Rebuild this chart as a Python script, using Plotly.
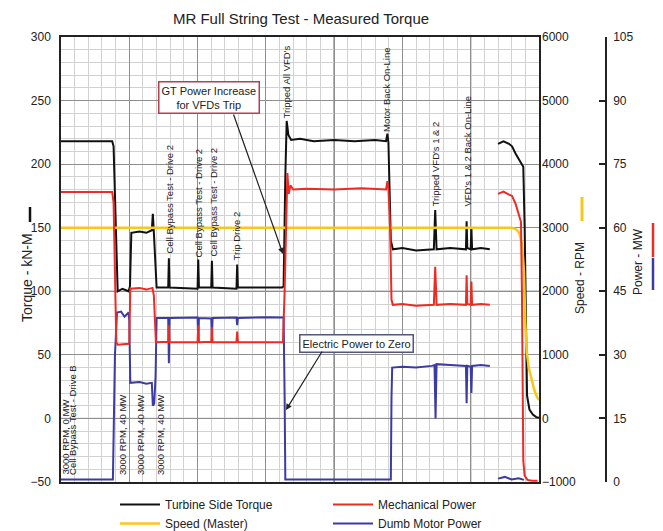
import plotly.graph_objects as go

# ---------------- data ----------------
TIME_TORQUE = [0, 7.5, 7.7, 8.3, 9.0, 9.9, 10.1, 10.3, 11.5, 12.5, 13.3, 13.45, 13.6, 14.0,
               15.7, 15.8, 15.9, 20.0, 20.1, 20.2, 22.0, 22.1, 22.2, 25.7, 25.8, 25.9,
               32.4, 32.6, 32.85, 33.05, 33.3, 33.7, 35, 37, 40, 43, 46, 47.6, 47.8, 47.95,
               48.3, 48.6, 50, 52, 54.6, 54.8, 55.0, 57, 59.3, 59.4, 59.5, 60.0, 60.1, 60.2,
               61.5, 62.8, None, 64.0, 64.8, 65.6, 66.05, 66.6, 67.2, 67.7, 67.9, 68.1, 68.25,
               68.6, 69.1, 69.6, 70]
TORQUE_KNM = [218, 218, 214, 100, 102, 100, 104, 146, 147, 146, 148, 161, 146, 103,
              103, 126, 103, 102, 125, 103, 103, 124, 103, 102, 121, 103,
              103, 104, 190, 234, 223, 219, 220, 218, 219, 218, 219, 218, 224, 217,
              140, 133, 134, 132, 133, 164, 133, 134, 133, 155, 134, 133, 150, 133,
              134, 133, None, 216, 218, 216, 214, 208, 203, 198, 150, 60, 18,
              7, 3, 1, 0.5]

TIME_SPEED = [0, 66.0, 66.6, 67.1, 67.5, 67.8, 68.0, 68.2, 68.5, 68.9, 69.3, 69.7, 70]
SPEED_RPM = [3000, 3000, 2980, 2920, 2750, 2300, 1500, 1050, 800, 600, 450, 340, 290]

TIME_MECH = [0, 7.5, 7.7, 8.1, 8.3, 9.9, 10.0, 10.15, 11.5, 12.5, 13.4, 13.6, 13.9,
             15.7, 15.8, 15.9, 20.0, 20.1, 20.2, 22.0, 22.1, 22.2, 25.7, 25.8, 25.9,
             32.5, 32.75, 32.95, 33.15, 33.35, 33.6, 34.0, 36, 40, 44, 47.6, 47.8, 47.95,
             48.2, 48.4, 48.6, 50, 52, 54.6, 54.8, 55.0, 57, 59.3, 59.4, 59.5, 60.0, 60.1,
             60.2, 61.5, 62.8, None, 64.0, 64.8, 65.6, 66.05, 66.6, 67.0, 67.36, 67.5, 67.6,
             67.7, 67.9, 68.3, 69.0, 69.8]
MECH_MW = [68.4, 68.4, 66, 33, 32.4, 32.6, 33, 45.6, 45.8, 45.4, 45.8, 44, 33,
           33.1, 37, 33, 33, 37, 33, 33.1, 36.5, 33, 33, 35.5, 33,
           33, 45, 60, 72.9, 68, 70, 69, 69.2, 69, 69.3, 69, 71, 69,
           60, 43, 41.8, 42, 41.6, 41.8, 50.8, 41.8, 42, 41.8, 48.8, 42, 41.8, 47.3,
           41.8, 42, 41.8, None, 68, 68.5, 67.8, 67.5, 65.5, 63.5, 61.4, 45, 20,
           5, 1.5, 0.5, 0.3, 0.3]

TIME_MOTOR = [0, 7.6, 7.9, 8.2, 8.8, 9.3, 9.9, 10.0, 10.15, 11.5, 12.5, 13.3, 13.45, 13.65,
              13.85, 14.0, 15.7, 15.8, 15.9, 20.0, 20.1, 20.2, 22.0, 22.1, 22.2, 25.7, 25.8,
              25.9, 30, 32.6, 32.75, 32.85, 40, 48.3, 48.4, 48.5, 50, 52, 54.3, 54.7, 54.85,
              55.0, 57, 59.3, 59.4, 59.5, 60.0, 60.1, 60.2, 61.5, 62.8, None, 64.0, 65, 66,
              67, 67.8]
MOTOR_MW = [0.6, 0.6, 30, 40, 40.2, 39, 40, 38, 23.4, 23.6, 23.2, 23.4, 18, 18.5,
            25, 38.7, 38.7, 28, 38.7, 38.8, 33, 38.7, 38.6, 34, 38.7, 38.8, 37,
            38.7, 38.9, 38.8, 20, 0.6, 0.6, 0.6, 20, 27, 27.2, 27, 27.4, 27.6, 15,
            27.8, 27.6, 27.4, 18.6, 27.4, 27.2, 21, 27.4, 27.6, 27.4, None, 0.8, 1.2, 0.6,
            0.9, 0.5]

TORQUE_TICKS = [-50, 0, 50, 100, 150, 200, 250, 300]
SPEED_TICKS = [-1000, 0, 1000, 2000, 3000, 4000, 5000, 6000]
POWER_TICKS = [0, 15, 30, 45, 60, 75, 90, 105]

EVENT_TEXT = ["3000 RPM, 0 MW", "Cell Bypass Test - Drive B", "3000 RPM, 40 MW",
              "3000 RPM, 40 MW", "3000 RPM, 40 MW", "Cell Bypass Test - Drive 2",
              "Cell Bypass Test - Drive 2", "Cell Bypass Test - Drive 2", "Trip Drive 2",
              "Tripped All VFD's", "Motor Back On-Line", "Tripped VFD's 1 & 2",
              "VFD's 1 & 2 Back On-Line"]
EVENT_TIME = [0.6, 1.6, 8.93, 11.57, 14.5, 15.82, 20.2, 22.26, 25.77, 32.95, 47.74, 54.77, 59.46]

TITLE = "MR Full String Test - Measured Torque"

# ---------------- style ----------------
BLACK, RED, YELLOW, BLUE = "#111111", "#ee2a24", "#f6c81b", "#3b3ba3"
W, H = 663, 531
ML, MR, MT, MB = 61, 57, 37, 49
PW = W - ML - MR          # paper width (545)
PH = H - MT - MB          # plot height (445)
PLOT_RIGHT = 539
XDOM = (PLOT_RIGHT - ML) / PW


def px(xp):
    return (xp - ML) / PW


def py(yp):
    return (H - MB - yp) / PH


EVENT_BOTTOM_PX = [476, 476, 476, 476, 476, 255, 258, 258, 261, 120, 133, 208, 208]

fig = go.Figure()
fig.add_trace(go.Scatter(x=TIME_TORQUE, y=TORQUE_KNM, mode="lines", name="Turbine Side Torque",
                         line=dict(color=BLACK, width=2), yaxis="y", legendrank=1,
                         connectgaps=False))
fig.add_trace(go.Scatter(x=TIME_SPEED, y=SPEED_RPM, mode="lines", name="Speed (Master)",
                         line=dict(color=YELLOW, width=2.5), yaxis="y2", legendrank=3))
fig.add_trace(go.Scatter(x=TIME_MOTOR, y=MOTOR_MW, mode="lines", name="Dumb Motor Power",
                         line=dict(color=BLUE, width=2), yaxis="y3", legendrank=4,
                         connectgaps=False))
fig.add_trace(go.Scatter(x=TIME_MECH, y=MECH_MW, mode="lines", name="Mechanical Power",
                         line=dict(color=RED, width=2), yaxis="y3", legendrank=2,
                         connectgaps=False))

FONT = "Arial, Liberation Sans, sans-serif"
MAJOR, MINOR = "#8e8e8e", "#d2d2d2"

fig.update_layout(
    width=W, height=H, margin=dict(l=ML, r=MR, t=MT, b=MB, autoexpand=False),
    paper_bgcolor="white", plot_bgcolor="white",
    font=dict(family=FONT, size=12, color="#222"),
    title=dict(text=TITLE, x=px(301), xanchor="center", xref="paper",
               y=1 - 19 / H, yanchor="middle", font=dict(size=15, color="#222")),
    xaxis=dict(domain=[0, XDOM], range=[0, 70], dtick=10, tick0=0, showticklabels=False,
               ticks="", showgrid=True, gridcolor=MAJOR, gridwidth=1, zeroline=False,
               showline=True, mirror=True, linecolor="#222", linewidth=1.5,
               minor=dict(dtick=2, tick0=0, showgrid=True, gridcolor=MINOR, gridwidth=1)),
    yaxis=dict(range=[-50, 300], tickvals=TORQUE_TICKS, ticks="", showgrid=True,
               gridcolor=MAJOR, gridwidth=1, zeroline=False, showline=True, mirror=True,
               linecolor="#222", linewidth=1.5, ticklabelstandoff=6,
               tickfont=dict(size=12, color="#222"),
               minor=dict(dtick=10, tick0=0, showgrid=True, gridcolor=MINOR, gridwidth=1)),
    yaxis2=dict(range=[-1000, 6000], tickvals=SPEED_TICKS, overlaying="y", side="right",
                anchor="x", showgrid=False, zeroline=False, ticks="", showline=False,
                ticklabelstandoff=2, tickfont=dict(size=12, color="#222")),
    yaxis3=dict(range=[0, 105], tickvals=POWER_TICKS, overlaying="y", side="right",
                anchor="free", position=1.0, showgrid=False, zeroline=False,
                showline=True, linecolor="#222", linewidth=1.5, ticks="inside", ticklen=6,
                tickcolor="#222", tickwidth=1.5, ticklabelstandoff=4,
                tickfont=dict(size=12, color="#222")),
    legend=dict(orientation="h", x=px(115), xanchor="left", y=py(490), yanchor="top",
                entrywidth=158, entrywidthmode="pixels", itemwidth=40,
                font=dict(size=12, color="#222"), bgcolor="rgba(0,0,0,0)",
                traceorder="normal"),
    showlegend=True,
)

shapes = []
# darker major grid lines
for xv in [40, 60]:
    shapes.append(dict(type="line", xref="x", yref="paper", x0=xv, x1=xv, y0=0, y1=1,
                       line=dict(color="#333", width=1), layer="below"))
for yv in [0, 100]:
    shapes.append(dict(type="line", xref="paper", yref="y", x0=0, x1=XDOM, y0=yv, y1=yv,
                       line=dict(color="#333", width=1), layer="below"))
# axis title key bars
shapes.append(dict(type="line", xref="paper", yref="paper", x0=px(30), x1=px(30),
                   y0=py(222), y1=py(207), line=dict(color=BLACK, width=2.5)))
shapes.append(dict(type="line", xref="paper", yref="paper", x0=px(582), x1=px(582),
                   y0=py(221), y1=py(197), line=dict(color=YELLOW, width=3)))
shapes.append(dict(type="line", xref="paper", yref="paper", x0=px(653), x1=px(653),
                   y0=py(257), y1=py(223), line=dict(color=RED, width=2.5)))
shapes.append(dict(type="line", xref="paper", yref="paper", x0=px(653), x1=px(653),
                   y0=py(290), y1=py(258), line=dict(color=BLUE, width=2.5)))
fig.update_layout(shapes=shapes)

ann = []
for txt, t, b in zip(EVENT_TEXT, EVENT_TIME, EVENT_BOTTOM_PX):
    ann.append(dict(text=txt, x=t, xref="x", y=py(b), yref="paper", textangle=-90,
                    xanchor="center", yanchor="bottom", showarrow=False, align="left",
                    font=dict(size=9.5, color="#222"), borderpad=0))
# axis titles
ann.append(dict(text="Torque - kN-M", x=px(27), y=py(278), xref="paper", yref="paper",
                textangle=-90, showarrow=False, xanchor="center", yanchor="middle",
                font=dict(size=14, color="#222")))
ann.append(dict(text="Speed - RPM", x=px(580), y=py(278), xref="paper", yref="paper",
                textangle=-90, showarrow=False, xanchor="center", yanchor="middle",
                font=dict(size=12, color="#222")))
ann.append(dict(text="Power - MW", x=px(638), y=py(262), xref="paper", yref="paper",
                textangle=-90, showarrow=False, xanchor="center", yanchor="middle",
                font=dict(size=12, color="#222")))
# callouts
ann.append(dict(text="GT Power Increase<br>for VFDs Trip", x=px(209), y=py(97.5),
                xref="paper", yref="paper", showarrow=False, xanchor="center",
                yanchor="middle", bgcolor="white", bordercolor="#b5404e", borderwidth=1.5,
                borderpad=2, font=dict(size=11, color="#222")))
ann.append(dict(text="", x=px(283), y=py(254), xref="paper", yref="paper", showarrow=True,
                ax=-50, ay=-141, arrowhead=2, arrowsize=1, arrowwidth=1.2,
                arrowcolor="#222", standoff=0))
ann.append(dict(text="Electric Power to Zero", x=px(356), y=py(343), xref="paper",
                yref="paper", showarrow=False, xanchor="center", yanchor="middle",
                bgcolor="white", bordercolor="#55557f", borderwidth=1.5, borderpad=2,
                font=dict(size=11, color="#222")))
ann.append(dict(text="", x=px(286), y=py(410), xref="paper", yref="paper", showarrow=True,
                ax=37, ay=-60, arrowhead=2, arrowsize=1, arrowwidth=1.2,
                arrowcolor="#222", standoff=0))
fig.update_layout(annotations=ann)

fig.write_html("out.html")
